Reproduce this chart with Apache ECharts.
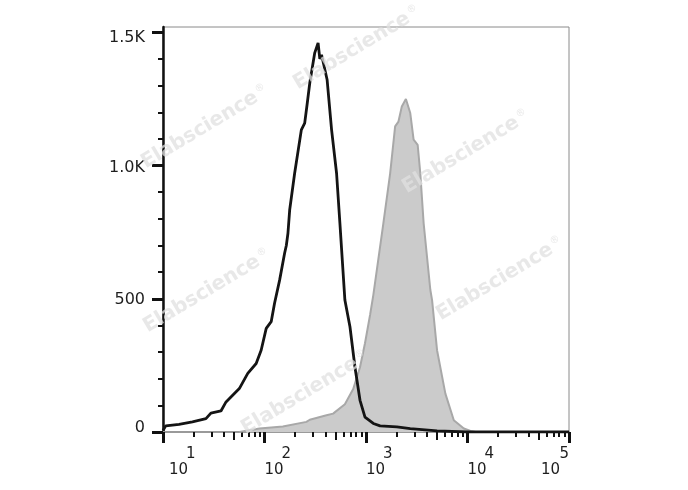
<!DOCTYPE html>
<html>
<head>
<meta charset="utf-8">
<script src="https://cdn.jsdelivr.net/npm/echarts@6/dist/echarts.min.js"></script>
<style>
html,body{margin:0;padding:0;background:#fff;}
#chart{width:688px;height:490px;}
</style>
</head>
<body>
<div id="chart"></div>
<script>
// ---- data (x values are log10 of fluorescence intensity) ----
var blackX = [1.000, 1.027, 1.158, 1.290, 1.423, 1.472, 1.571, 1.621, 1.752, 1.835, 1.918, 1.967, 2.017, 2.066, 2.099, 2.149, 2.198, 2.215, 2.231, 2.248, 2.297, 2.363, 2.396, 2.420, 2.446, 2.495, 2.528, 2.545, 2.562, 2.578, 2.617, 2.661, 2.710, 2.743, 2.792, 2.842, 2.891, 2.941, 2.990, 3.072, 3.139, 3.304, 3.436, 3.700, 3.997, 5.000];
var blackY = [6, 23, 29, 38, 50, 71, 79, 113, 163, 220, 257, 307, 389, 414, 483, 570, 671, 700, 746, 833, 971, 1134, 1159, 1230, 1310, 1423, 1460, 1400, 1416, 1423, 1322, 1134, 971, 783, 495, 395, 244, 119, 56, 32, 23, 19, 13, 4, 0, 0];

var grayX = [1.752, 1.950, 2.181, 2.413, 2.446, 2.611, 2.676, 2.792, 2.874, 2.941, 2.990, 3.040, 3.072, 3.171, 3.238, 3.287, 3.320, 3.353, 3.393, 3.436, 3.469, 3.509, 3.535, 3.568, 3.634, 3.651, 3.700, 3.782, 3.865, 3.964, 4.030, 4.080];
var grayY = [0, 13, 21, 38, 46, 63, 69, 104, 161, 243, 333, 439, 514, 783, 971, 1147, 1165, 1222, 1250, 1197, 1097, 1078, 971, 783, 533, 495, 307, 144, 44, 13, 4, 0];

// ---- axis ticks / labels ----
var yTickValues = [0, 500, 1000, 1500];
var yTickLabels = ['0', '500', '1.0K', '1.5K'];
var yMinorValues = [100, 200, 300, 400, 600, 700, 800, 900, 1100, 1200, 1300, 1400];
var xDecades = [1, 2, 3, 4, 5];
var xBase = '10';
var xExponents = ['1', '2', '3', '4', '5'];
var xMidMultipliers = [5];
var xMinorMultipliers = [2, 3, 4, 6, 7, 8, 9];

function subTicks(mults) {
  var out = [];
  for (var d = 1; d < 5; d++) {
    for (var i = 0; i < mults.length; i++) out.push(d + Math.log10(mults[i]));
  }
  return out;
}
var xMid = subTicks(xMidMultipliers);
var xMinor = subTicks(xMinorMultipliers);

function zip(xs, ys) { return xs.map(function (x, i) { return [x, ys[i]]; }); }

var FONT = 'DejaVu Sans';
var labelColor = '#1e1e1e';

function xs(pad) { return { fontFamily: FONT, fontSize: 15, lineHeight: 16, color: labelColor, padding: pad }; }
var xRich = {
  s: xs([0, 0, 0, 17]),
  b: xs([0, 0, 0, 0]),
  sF: xs([0, 0, 0, 23]),
  bF: xs([0, 0, 0, 6]),
  sL: xs([0, 0, 0, 0]),
  bL: xs([0, 9, 0, 0])
};
var yPads = [[0, 0, 9, 0], [3, 0, 0, 0], [5, 0, 0, 0], [12, 0, 0, 0]];
var yRich = {};
yPads.forEach(function (p, i) {
  yRich['y' + i] = { fontFamily: FONT, fontSize: 16, color: labelColor, padding: p };
});

function tickAxis(vals, len, width) {
  return {
    type: 'value', min: 1, max: 5, position: 'bottom',
    axisLine: { show: false },
    axisTick: { show: true, customValues: vals, length: len, inside: false, lineStyle: { color: '#111', width: width } },
    axisLabel: { show: false },
    splitLine: { show: false }
  };
}

var wmPos = [[357, 48], [205, 127], [466, 152], [207, 291], [500, 279], [305, 393]];
var graphics = wmPos.map(function (p) {
  return {
    type: 'text', x: p[0], y: p[1], rotation: 0.54, z: 100, silent: true,
    style: {
      text: '{a|Elabscience}{r|®}',
      align: 'center', verticalAlign: 'middle',
      rich: {
        a: { fontFamily: FONT, fontWeight: 'bold', fontSize: 20, fill: 'rgba(224,224,224,0.75)' },
        r: { fontFamily: FONT, fontSize: 10, fill: 'rgba(224,224,224,0.75)', padding: [0, 0, 10, 2] }
      }
    }
  };
});

var chart = echarts.init(document.getElementById('chart'), null, { renderer: 'canvas' });
chart.setOption({
  animation: false,
  backgroundColor: '#fff',
  grid: {
    left: 163, top: 27, right: 119, bottom: 58,
    containLabel: false, outerBoundsMode: 'none',
    show: true, borderColor: '#8a8a8a', borderWidth: 1, backgroundColor: 'transparent'
  },
  xAxis: [
    {
      type: 'value', min: 1, max: 5, position: 'bottom',
      axisLine: { show: true, onZero: false, lineStyle: { color: '#9a9a9a', width: 2 } },
      axisTick: { show: true, customValues: xDecades, length: 11, lineStyle: { color: '#111', width: 3 } },
      axisLabel: {
        show: true, customValues: xDecades, margin: 14, align: 'left', verticalAlign: 'top',
        alignMaxLabel: 'right',
        formatter: function (v) {
          var i = xDecades.indexOf(Math.round(v));
          var f = (i === 0) ? 'F' : (i === xDecades.length - 1 ? 'L' : '');
          return '{s' + f + '|' + xExponents[i] + '}\n{b' + f + '|' + xBase + '}';
        },
        rich: xRich
      },
      splitLine: { show: false }
    },
    tickAxis(xMid, 8, 2),
    tickAxis(xMinor, 5, 2)
  ],
  yAxis: [
    {
      type: 'value', min: 0, max: 1520, position: 'left',
      axisLine: { show: true, onZero: false, lineStyle: { color: '#111', width: 2.5 } },
      axisTick: { show: true, customValues: yTickValues, length: 11, lineStyle: { color: '#111', width: 3 } },
      axisLabel: {
        show: true, customValues: yTickValues, margin: 18, align: 'right',
        formatter: function (v) {
          var i = yTickValues.indexOf(v);
          return '{y' + i + '|' + yTickLabels[i] + '}';
        },
        rich: yRich
      },
      splitLine: { show: false }
    },
    {
      type: 'value', min: 0, max: 1520, position: 'left',
      axisLine: { show: false },
      axisTick: { show: true, customValues: yMinorValues, length: 5, lineStyle: { color: '#111', width: 2 } },
      axisLabel: { show: false },
      splitLine: { show: false }
    }
  ],
  series: [
    {
      name: 'stained', type: 'line', xAxisIndex: 0, yAxisIndex: 0,
      data: zip(grayX, grayY), showSymbol: false, symbol: 'none', smooth: false,
      lineStyle: { color: '#a8a8a8', width: 2 },
      areaStyle: { color: '#cbcbcb', opacity: 1 },
      z: 2
    },
    {
      name: 'control', type: 'line', xAxisIndex: 0, yAxisIndex: 0,
      data: zip(blackX, blackY), showSymbol: false, symbol: 'none', smooth: false,
      lineStyle: { color: '#141414', width: 2.8 },
      z: 3
    }
  ],
  graphic: graphics
});
</script>
</body>
</html>
